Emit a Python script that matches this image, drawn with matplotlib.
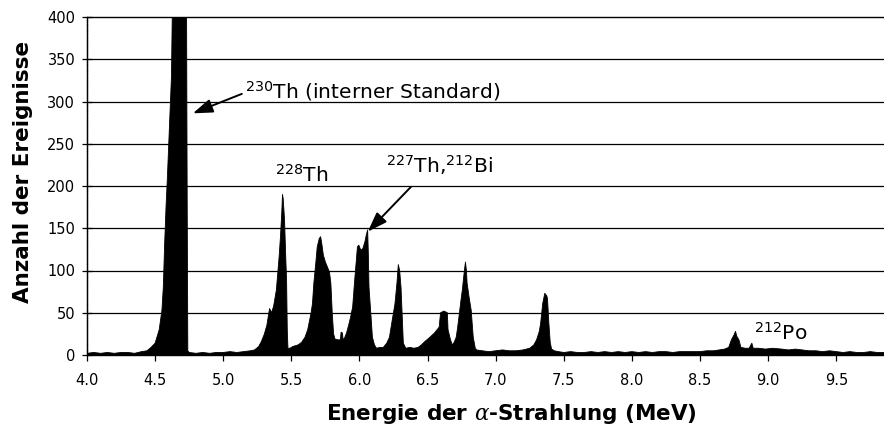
import matplotlib
matplotlib.use("Agg")
import matplotlib.pyplot as plt

plt.rcParams['font.family'] = ['DejaVu Sans']
plt.rcParams['mathtext.fontset'] = 'dejavuserif'

# Spectrum outline points: energy (MeV) and counts
energy = [
    4.00, 4.05, 4.10, 4.15, 4.20, 4.25, 4.30, 4.35, 4.40, 4.44, 4.47, 4.50, 4.53, 4.55, 4.56,
    4.57, 4.58, 4.59, 4.60, 4.61, 4.62, 4.628, 4.65, 4.67, 4.69, 4.71, 4.73, 4.735, 4.74, 4.75,
    4.80, 4.85, 4.90, 4.95, 5.00, 5.05, 5.10, 5.15, 5.20, 5.23, 5.26, 5.28, 5.30, 5.32, 5.34,
    5.355, 5.37, 5.39, 5.41, 5.42, 5.43, 5.435, 5.44, 5.45, 5.46, 5.465, 5.47, 5.475, 5.49, 5.51,
    5.53, 5.55, 5.575, 5.60, 5.62, 5.63, 5.645, 5.655, 5.665, 5.68, 5.69, 5.705, 5.715, 5.725, 5.735,
    5.75, 5.765, 5.78, 5.79, 5.80, 5.81, 5.82, 5.84, 5.86, 5.865, 5.875, 5.88, 5.89, 5.905, 5.92,
    5.935, 5.95, 5.965, 5.985, 5.995, 6.01, 6.025, 6.04, 6.05, 6.06, 6.065, 6.07, 6.085, 6.095, 6.11,
    6.125, 6.15, 6.175, 6.20, 6.22, 6.24, 6.26, 6.275, 6.285, 6.295, 6.305, 6.315, 6.322, 6.34, 6.37,
    6.40, 6.43, 6.455, 6.48, 6.51, 6.55, 6.585, 6.595, 6.62, 6.645, 6.65, 6.665, 6.68, 6.695, 6.71,
    6.72, 6.73, 6.745, 6.755, 6.77, 6.778, 6.785, 6.79, 6.805, 6.82, 6.835, 6.85, 6.86, 6.90, 6.95,
    7.00, 7.05, 7.10, 7.15, 7.20, 7.25, 7.28, 7.30, 7.32, 7.33, 7.345, 7.36, 7.375, 7.38, 7.39,
    7.40, 7.41, 7.43, 7.46, 7.50, 7.55, 7.60, 7.65, 7.70, 7.75, 7.80, 7.85, 7.90, 7.95, 8.00,
    8.05, 8.10, 8.15, 8.20, 8.25, 8.30, 8.35, 8.40, 8.45, 8.50, 8.55, 8.60, 8.64, 8.68, 8.71,
    8.73, 8.75, 8.76, 8.77, 8.785, 8.80, 8.83, 8.86, 8.88, 8.89, 8.93, 8.98, 9.03, 9.10, 9.15,
    9.20, 9.25, 9.30, 9.35, 9.40, 9.45, 9.50, 9.55, 9.60, 9.65, 9.70, 9.75, 9.80, 9.85,
]
counts = [
    2, 3, 2, 3, 2, 3, 3, 2, 4, 5, 9, 14, 30, 53, 80,
    132, 175, 210, 250, 290, 330, 430, 560, 600, 580, 520, 450, 200, 5, 3,
    2, 3, 2, 3, 3, 4, 3, 4, 5, 6, 10, 16, 24, 35, 55,
    50, 58, 77, 116, 140, 170, 190, 185, 160, 110, 89, 30, 8, 8, 10,
    11, 12, 15, 21, 30, 38, 50, 61, 85, 110, 128, 138, 140, 130, 118,
    110, 104, 98, 85, 50, 25, 19, 18, 18, 27, 26, 18, 20, 26, 35,
    45, 57, 89, 128, 130, 124, 126, 134, 142, 148, 120, 80, 45, 21, 12,
    8, 9, 9, 14, 21, 41, 60, 85, 107, 100, 80, 41, 14, 8, 9,
    8, 9, 12, 16, 20, 26, 33, 50, 52, 50, 30, 20, 12, 15, 21,
    32, 45, 65, 77, 100, 110, 100, 85, 68, 53, 21, 8, 6, 5, 4,
    5, 6, 5, 5, 6, 8, 12, 18, 28, 38, 61, 73, 70, 67, 38,
    15, 7, 5, 4, 3, 4, 3, 3, 4, 3, 4, 3, 4, 3, 4,
    3, 4, 3, 4, 4, 3, 4, 4, 4, 4, 5, 5, 6, 7, 9,
    18, 24, 28, 22, 18, 9, 8, 8, 14, 8, 8, 7, 8, 7, 6,
    7, 6, 5, 5, 4, 5, 4, 3, 4, 3, 3, 4, 3, 3,
]

x_ticks = [4.0, 4.5, 5.0, 5.5, 6.0, 6.5, 7.0, 7.5, 8.0, 8.5, 9.0, 9.5]
y_ticks = [0, 50, 100, 150, 200, 250, 300, 350, 400]

fig = plt.figure(figsize=(8.84, 4.32), dpi=100)
ax = fig.add_axes([87/884, 1-355/432, 1-87/884, (355-17)/432])

# gridlines
for yv in y_ticks[1:-1]:
    ax.axhline(yv, color='black', lw=0.9, zorder=1)

ax.fill_between(energy, counts, 0, color='black', lw=0.6, zorder=2)

ax.set_xlim(4.0, 9.85)
ax.set_ylim(0, 400)
ax.set_xticks(x_ticks)
ax.set_xticklabels([f"{v:.1f}" for v in x_ticks])
ax.set_yticks(y_ticks)
ax.set_yticklabels([str(v) for v in y_ticks])
ax.tick_params(axis='x', direction='out', length=4, width=0.9, pad=9, labelsize=10.5)
ax.tick_params(axis='y', direction='inout', length=7, width=0.9, pad=5, labelsize=10.5)

ax.spines['right'].set_visible(False)
ax.spines['top'].set_linestyle((0, (1, 1)))
ax.spines['top'].set_linewidth(1.0)
ax.spines['left'].set_linestyle((0, (1, 0.6)))
ax.spines['left'].set_linewidth(1.0)
ax.spines['bottom'].set_linewidth(1.0)

ax.set_xlabel(r'Energie der $\alpha$-Strahlung (MeV)', fontsize=15.5, fontweight='bold')
ax.set_ylabel('Anzahl der Ereignisse', fontsize=15.5, fontweight='bold')
ax.xaxis.set_label_coords(0.532, -0.175)
ax.xaxis.label.set_va('center')
ax.yaxis.set_label_coords(-0.080, 0.541)
ax.yaxis.label.set_va('center')

afs = 14.6
ax.text(5.163, 303.8, r'$\mathregular{^{230}}$Th (interner Standard)', fontsize=afs, va='baseline', ha='left')
ax.text(5.377, 205, r'$\mathregular{^{228}}$Th', fontsize=afs, va='baseline', ha='left')
ax.text(6.198, 215.4, r'$\mathregular{^{227}}$Th,$\mathregular{^{212}}$Bi', fontsize=afs, va='baseline', ha='left')
ax.text(8.894, 17.8, r'$\mathregular{^{212}}$Po', fontsize=afs, va='baseline', ha='left')

aprops = dict(arrowstyle='-|>,head_length=0.8,head_width=0.28', color='black', lw=1.4,
              shrinkA=0, shrinkB=0, mutation_scale=15)
ax.annotate('', xy=(4.777, 286), xytext=(5.136, 309), arrowprops=aprops)
ax.annotate('', xy=(6.061, 146), xytext=(6.378, 199), arrowprops=aprops)

fig.savefig('out.png', dpi=100)
